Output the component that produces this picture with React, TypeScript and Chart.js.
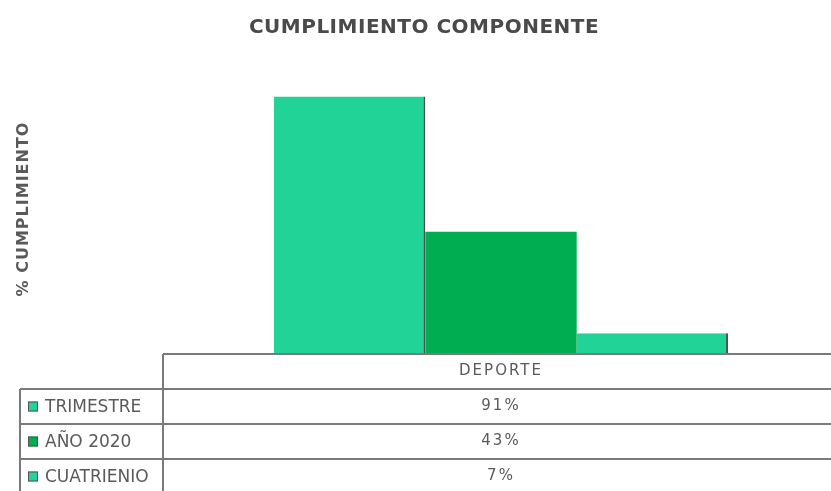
import React, { useEffect, useRef } from "react";
import { Chart, registerables } from "chart.js";

Chart.register(...registerables);

const TITLE = "CUMPLIMIENTO COMPONENTE";
const Y_LABEL = "% CUMPLIMIENTO";
const CATEGORIES = ["DEPORTE"];
const SERIES_NAMES = ["TRIMESTRE", "AÑO 2020", "CUATRIENIO"];
const TRIMESTRE = [91];
const ANO_2020 = [43];
const CUATRIENIO = [7];
const SERIES_COLORS = ["#21D396", "#00AD50", "#21D396"];
const Y_MIN = 0;
const Y_MAX = 100;

const TEXT_COLOR = "#5a5a5a";
const LINE_COLOR = "#7a7a7a";
const FONT = "'DejaVu Sans', sans-serif";

const tablePlugin = {
  id: "dataTable",
  afterDraw(chart: any) {
    const { ctx, chartArea, width, height } = chart;
    const xs = chart.scales.x;
    const rowH = 35;
    const top = chartArea.bottom + 1;
    const leftCol = 20;
    const sepX = 163;
    ctx.save();

    // title
    ctx.fillStyle = "#4a4a4a";
    ctx.font = `bold 20px ${FONT}`;
    (ctx as any).letterSpacing = "0.5px";
    ctx.textAlign = "center";
    ctx.textBaseline = "middle";
    ctx.fillText(TITLE, 424, 28);

    // y axis label
    ctx.save();
    ctx.translate(24, 209);
    ctx.rotate(-Math.PI / 2);
    ctx.fillStyle = TEXT_COLOR;
    ctx.font = `bold 16px ${FONT}`;
    (ctx as any).letterSpacing = "1px";
    ctx.textAlign = "center";
    ctx.textBaseline = "middle";
    ctx.fillText(Y_LABEL, 0, 0);
    ctx.restore();

    // grid lines
    ctx.strokeStyle = LINE_COLOR;
    ctx.lineWidth = 2;
    ctx.beginPath();
    ctx.moveTo(sepX, top);
    ctx.lineTo(width, top);
    for (let i = 1; i <= SERIES_NAMES.length; i++) {
      const y = top + i * rowH;
      ctx.moveTo(leftCol, y);
      ctx.lineTo(width, y);
    }
    ctx.moveTo(sepX, top);
    ctx.lineTo(sepX, height);
    ctx.moveTo(leftCol, top + rowH);
    ctx.lineTo(leftCol, height);
    ctx.stroke();

    ctx.textBaseline = "middle";
    ctx.fillStyle = TEXT_COLOR;
    ctx.font = `15px ${FONT}`;
    (ctx as any).letterSpacing = "2px";
    ctx.textAlign = "center";
    CATEGORIES.forEach((c, ci) => {
      const cx = xs.getPixelForValue(ci);
      ctx.fillText(c, cx, top + rowH / 2);
      chart.data.datasets.forEach((ds: any, di: number) => {
        ctx.fillText(`${ds.data[ci]}%`, cx, top + (di + 1.5) * rowH);
      });
    });

    ctx.font = `17px ${FONT}`;
    (ctx as any).letterSpacing = "0px";
    ctx.textAlign = "left";
    chart.data.datasets.forEach((ds: any, di: number) => {
      const cy = top + (di + 1.5) * rowH;
      ctx.fillStyle = ds.backgroundColor;
      ctx.fillRect(leftCol + 8, cy - 5, 10, 10);
      ctx.strokeStyle = "#555";
      ctx.lineWidth = 1;
      ctx.strokeRect(leftCol + 8.5, cy - 4.5, 9, 9);
      ctx.fillStyle = TEXT_COLOR;
      ctx.fillText(ds.label, leftCol + 25, cy + 1);
    });
    ctx.restore();
  },
};

export default function App() {
  const ref = useRef<HTMLCanvasElement>(null);
  useEffect(() => {
    document.body.style.margin = "0";
    const values = [TRIMESTRE, ANO_2020, CUATRIENIO];
    const chart = new Chart(ref.current!, {
      type: "bar",
      data: {
        labels: CATEGORIES,
        datasets: SERIES_NAMES.map((name, i) => ({
          label: name,
          data: values[i],
          backgroundColor: SERIES_COLORS[i],
          borderColor: "#505050",
          borderWidth: i === 1 ? 0 : { top: 0, left: 0, bottom: 0, right: 2 },
          borderSkipped: false,
          barPercentage: 1,
          categoryPercentage: 0.688,
        })),
      },
      options: {
        animation: false,
        responsive: true,
        maintainAspectRatio: false,
        layout: { padding: { left: 171, right: 0, top: 71, bottom: 138 } },
        plugins: {
          legend: { display: false },
          tooltip: { enabled: false },
          title: { display: false },
        },
        scales: {
          x: { display: false },
          y: { display: false, min: Y_MIN, max: Y_MAX },
        },
      },
      plugins: [tablePlugin],
    });
    return () => chart.destroy();
  }, []);
  return (
    <div style={{ position: "relative", width: 831, height: 491 }}>
      <canvas ref={ref} />
    </div>
  );
}
